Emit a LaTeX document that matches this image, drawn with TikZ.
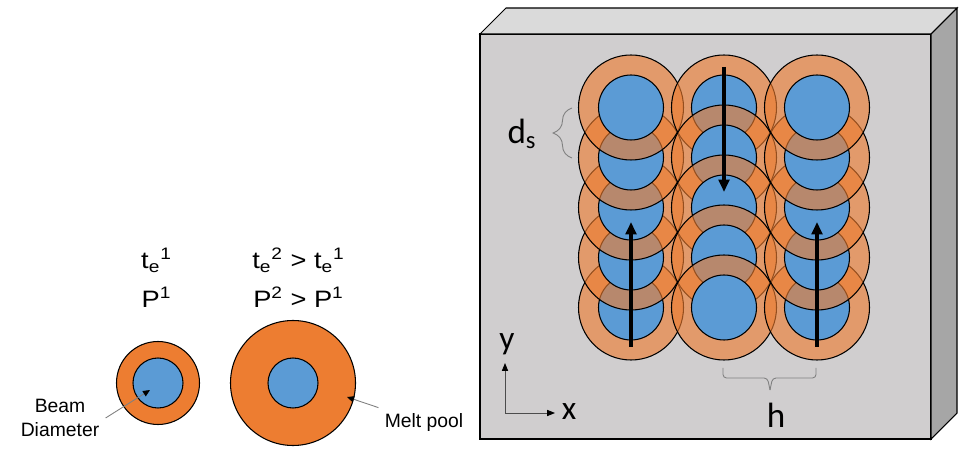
\documentclass[tikz,border=0pt]{standalone}
\usepackage{fontspec}
\setmainfont{Liberation Sans}
\newfontfamily\widesans[FakeStretch=1.15]{Liberation Sans}
\newfontfamily\calibrifont{Carlito}
\usetikzlibrary{arrows.meta,decorations.pathreplacing}

\definecolor{poolorange}{RGB}{237,125,49}
\definecolor{beamblue}{RGB}{91,155,213}
\definecolor{platefront}{RGB}{208,206,207}
\definecolor{platetop}{RGB}{218,218,218}
\definecolor{plateside}{RGB}{166,166,166}

\tikzset{every picture/.style={line width=0.6pt}}
\tikzset{
  pool/.style={fill=poolorange, fill opacity=0.63, draw=black},
  beam/.style={fill=beamblue, draw=black},
  scanpath/.style={-{Triangle[length=7pt,width=6pt]}, line width=2.3pt},
  gapbrace/.style={decorate, decoration={brace, amplitude=#1}, draw=gray, line width=0.5pt},
  flatbrace/.style={draw=gray, line width=0.5pt, rounded corners=2pt},
  pointer/.style={draw=gray, line width=0.5pt, -{Triangle[black,length=4pt,width=3.5pt]}},
  axis/.style={draw=black!70, line width=0.5pt, -{Triangle[black,length=4.5pt,width=3.5pt]}},
  param/.style={anchor=base, font=\widesans\fontsize{13.5}{16}\selectfont},
}

% one laser spot: melt pool and beam
\newcommand{\meltspot}[2]{%
  \filldraw[pool] (#1,#2) circle (1.05);
  \filldraw[beam] (#1,#2) circle (0.65);
}

\begin{document}
\begin{tikzpicture}
        \useasboundingbox (0,0) rectangle (19.2,8.98);
        % left: single spots
        \node[param] (te1) at (3.13,3.6) {t\textsubscript{e}\textsuperscript{1}};
        \node[param] (p1) at (3.13,2.82) {P\textsuperscript{1}};
        \node[param] (te2) at (5.97,3.6) {t\textsubscript{e}\textsuperscript{2} > t\textsubscript{e}\textsuperscript{1}};
        \node[param] (p2) at (5.97,2.82) {P\textsuperscript{2} > P\textsuperscript{1}};
        \filldraw[fill=poolorange] (3.16,1.32) circle (0.83);
        \filldraw[beam] (3.16,1.32) circle (0.5);
        \filldraw[fill=poolorange] (5.86,1.32) circle (1.25);
        \filldraw[beam] (5.86,1.32) circle (0.5);
        \node[align=center, font=\fontsize{11}{13.6}\selectfont] (beamlbl) at (1.2,0.62) {Beam\\Diameter};
        \node[font=\fontsize{11}{13.6}\selectfont] (meltlbl) at (8.48,0.52) {Melt pool};
        \coordinate (beamtip) at (3.0,1.18);
        \coordinate (melttip) at (6.94,1.04);
        \draw[pointer] (beamlbl.east) -- (beamtip);
        \draw[pointer] (meltlbl.north west) -- (melttip);
        % right: plate
        \filldraw[fill=platefront] (9.6,0.2) rectangle (18.62,8.3);
        \filldraw[fill=platetop] (9.6,8.3) -- (10.12,8.82) -- (19.14,8.82) -- (18.62,8.3) -- cycle;
        \filldraw[fill=plateside] (18.62,8.3) -- (19.14,8.82) -- (19.14,0.72) -- (18.62,0.2) -- cycle;
        % scan tracks, in the order they are melted
        \meltspot{12.62}{2.83}
        \meltspot{12.62}{3.83}
        \meltspot{12.62}{4.83}
        \meltspot{12.62}{5.83}
        \meltspot{12.62}{6.83}
        \meltspot{14.48}{6.83}
        \meltspot{14.48}{5.83}
        \meltspot{14.48}{4.83}
        \meltspot{14.48}{3.83}
        \meltspot{14.48}{2.83}
        \meltspot{16.34}{2.83}
        \meltspot{16.34}{3.83}
        \meltspot{16.34}{4.83}
        \meltspot{16.34}{5.83}
        \meltspot{16.34}{6.83}
        \coordinate (up1s) at (12.62,2.04);
        \coordinate (up1e) at (12.62,4.54);
        \coordinate (downs) at (14.48,7.64);
        \coordinate (downe) at (14.48,5.14);
        \coordinate (up2s) at (16.34,2.04);
        \coordinate (up2e) at (16.34,4.54);
        \draw[scanpath] (up1s) -- (up1e);
        \draw[scanpath] (downs) -- (downe);
        \draw[scanpath] (up2s) -- (up2e);
        % spacing labels
        \draw[gapbrace=0.38cm] (11.44,5.82) -- (11.44,6.82);
        \node[font=\calibrifont\fontsize{20}{24}\selectfont] (ds) at (10.44,6.3) {d\textsubscript{s}};
        \draw[flatbrace] (14.46,1.62) |- (15.35,1.42) -- (15.40,1.18);
        \draw[flatbrace] (16.32,1.62) |- (15.45,1.42) -- (15.40,1.18);
        \node[font=\calibrifont\fontsize{20}{24}\selectfont] (hlbl) at (15.52,0.68) {h};
        % axes
        \coordinate (origin) at (10.1,0.72);
        \coordinate (ytip) at (10.1,1.72);
        \coordinate (xtip) at (11.1,0.72);
        \draw[axis] (origin) -- (ytip);
        \draw[axis] (origin) -- (xtip);
        \node[font=\calibrifont\fontsize{19}{23}\selectfont] (ylbl) at (10.14,2.1) {y};
        \node[font=\calibrifont\fontsize{19}{23}\selectfont] (xlbl) at (11.38,0.74) {x};
\end{tikzpicture}
\end{document}
